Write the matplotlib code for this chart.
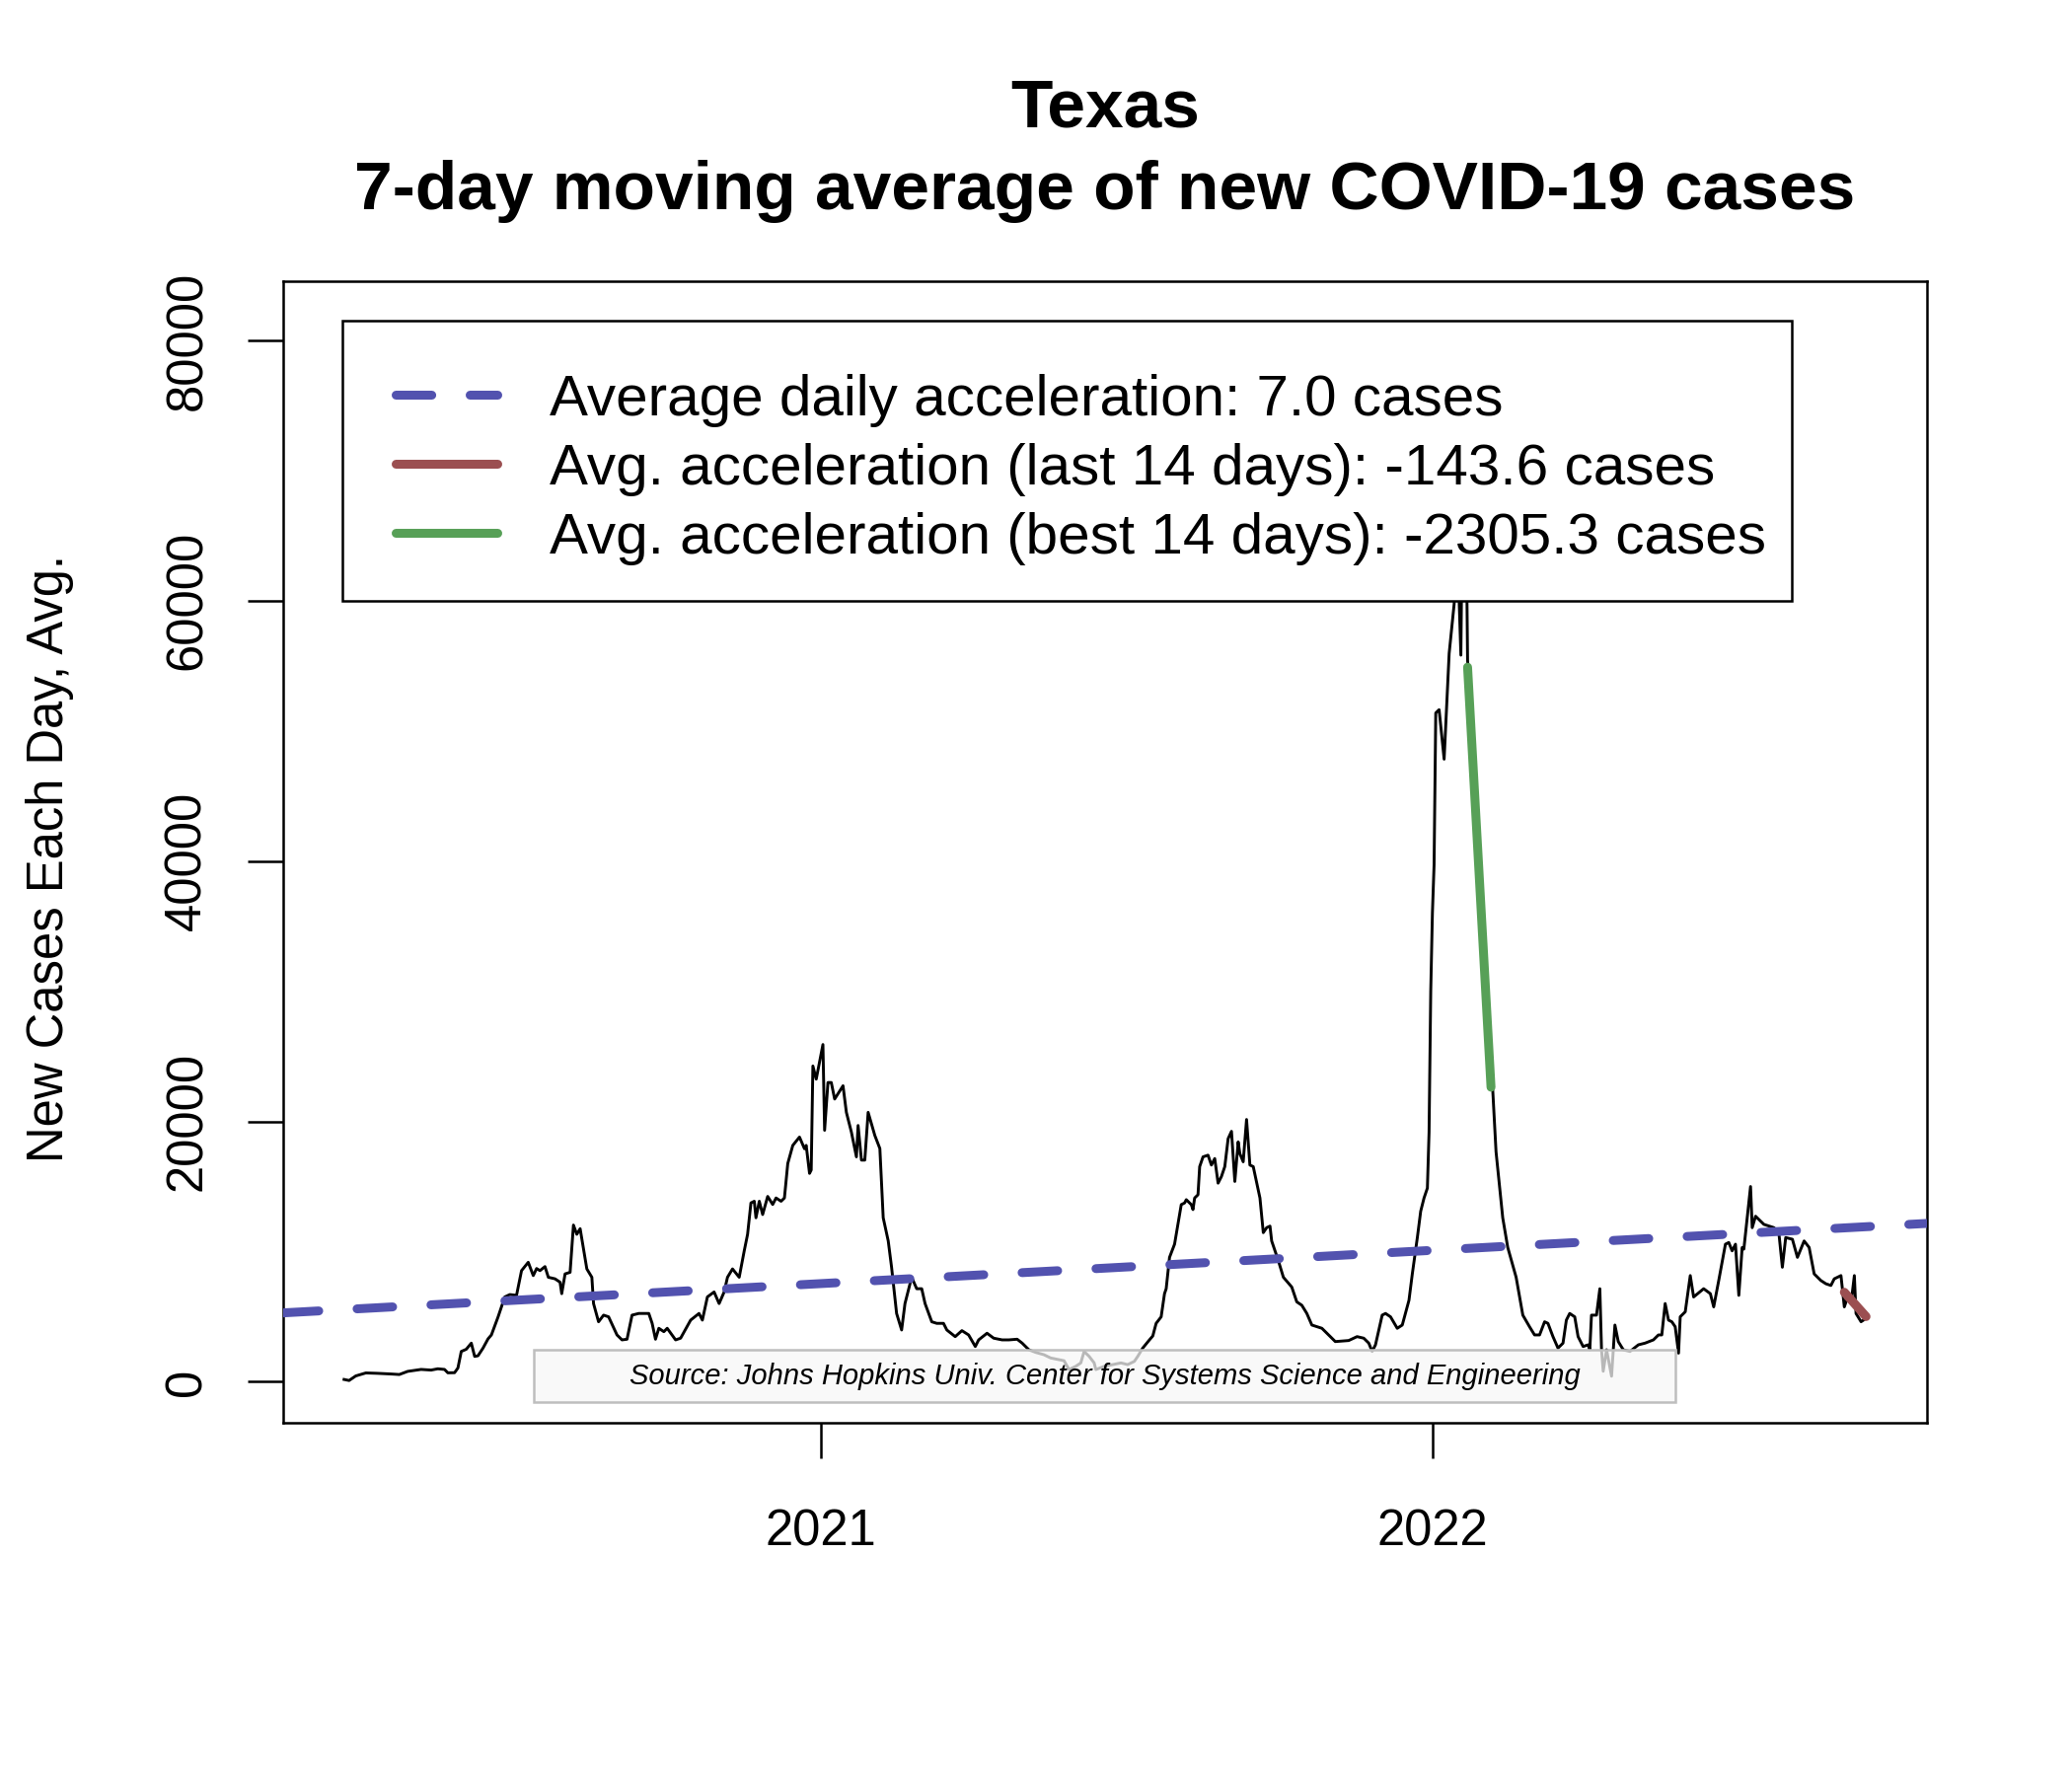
import numpy as np
import pandas as pd
import matplotlib
matplotlib.use("Agg")
import matplotlib.pyplot as plt
from matplotlib.patches import Rectangle

plt.rcParams['font.family'] = ['Liberation Sans', 'DejaVu Sans']
plt.rcParams['lines.scale_dashes'] = False

# ---------------- data ----------------
start_date = "2020-03-22"
# day offsets since start_date and 7-day average of new cases
day = [0, 3, 7, 13, 20, 28, 33, 38, 46, 52, 56, 60, 62, 66, 68, 70, 73, 76, 78, 80,
       83, 86, 88, 90, 92, 96, 99, 103, 106, 110, 113, 115, 117, 120, 122, 126, 129, 130, 132, 135,
       137, 139, 141, 145, 148, 149, 152, 155, 158, 163, 166, 169, 172, 176, 182, 184, 186, 188, 191, 193,
       198, 201, 207, 212, 214, 217, 221, 224, 227, 229, 232, 236, 239, 241, 243, 245, 246, 248, 250, 253,
       256, 258, 261, 263, 265, 268, 272, 275, 276, 278, 279, 280, 282, 286, 287, 289, 291, 293, 298, 300,
       303, 306, 307, 309, 311, 313, 317, 320, 322, 325, 327, 330, 333, 335, 339, 342, 345, 347, 351, 354,
       358, 360, 365, 369, 373, 377, 379, 384, 388, 393, 397, 402, 405, 409, 413, 418, 422, 427, 430, 433,
       437, 440, 442, 445, 448, 449, 454, 459, 464, 468, 472, 474, 477, 481, 483, 485, 488, 490, 491, 493,
       496, 498, 500, 502, 503, 506, 507, 508, 510, 511, 513, 516, 518, 520, 522, 524, 526, 528, 530, 532,
       534, 535, 537, 539, 541, 543, 547, 549, 551, 553, 554, 558, 561, 566, 569, 572, 575, 578, 584, 588,
       592, 600, 605, 609, 612, 614, 616, 620, 622, 625, 629, 632, 636, 638, 641, 643, 645, 647, 648, 649,
       650, 651, 652, 654, 657, 660, 663, 664, 667, 669, 671, 675, 680, 684, 686, 688, 692, 695, 700, 704,
       708, 711, 714, 717, 719, 722, 725, 728, 730, 732, 735, 737, 740, 743, 744, 745, 748, 750, 751, 752,
       754, 757, 759, 761, 764, 768, 773, 777, 782, 785, 787, 789, 791, 793, 795, 797, 798, 801, 804, 806,
       812, 816, 818, 821, 825, 827, 829, 831, 833, 835, 836, 838, 840, 841, 843, 848, 854, 857, 859, 861,
       865, 868, 872, 875, 878, 882, 885, 888, 890, 894, 896, 898, 900, 902, 903, 906, 909]
cases = [180, 100, 450, 680, 650, 600, 560, 800, 950, 900, 1000, 950, 690, 700, 1060, 2330, 2500, 2970, 1950, 2000,
         2590, 3300, 3600, 4300, 4990, 6520, 6700, 6640, 8540, 9180, 8160, 8700, 8540, 8850, 8030, 7910, 7650, 6770, 8290, 8410,
         12040, 11330, 11760, 8670, 8030, 6010, 4610, 5120, 4990, 3600, 3220, 3270, 5120, 5250, 5250, 4490, 3270, 4110, 3850, 4110,
         3220, 3350, 4740, 5250, 4740, 6520, 6900, 6010, 6900, 8030, 8670, 8030, 10060, 11330, 13740, 13870, 12600, 13870, 12850, 14240,
         13620, 14120, 13870, 14120, 16770, 18160, 18800, 17900, 18160, 16010, 16270, 24260, 23250, 25910, 19320, 22990, 22990, 21720, 22740, 20700,
         19180, 17280, 19690, 17030, 17030, 20700, 18920, 17920, 12600, 10820, 8800, 5250, 3980, 6010, 8030, 7150, 7150, 6010, 4610, 4490,
         4490, 3980, 3470, 3930, 3600, 2710, 3220, 3730, 3350, 3220, 3220, 3270, 2970, 2460, 2260, 2080, 1830, 1700, 1620, 940,
         1190, 1450, 2330, 1950, 1450, 940, 1190, 1320, 1450, 1320, 1570, 1950, 2590, 3220, 3520, 4490, 4990, 6770, 7150, 9560,
         10570, 12090, 13610, 13740, 13990, 13610, 13230, 14120, 14370, 16530, 17280, 17410, 16650, 17150, 15260, 15770, 16530, 18680, 19240, 15390,
         18430, 17530, 16900, 20150, 16650, 16530, 14120, 11460, 11840, 11960, 10820, 9300, 8030, 7280, 6140, 5880, 5250, 4360, 4110, 3600,
         3090, 3170, 3470, 3350, 2970, 2330, 2840, 5120, 5250, 4990, 4110, 4360, 6260, 8290, 11080, 13100, 14120, 14880, 19180, 30000,
         36000, 39720, 51380, 51630, 47830, 55950, 59770, 68000, 55820, 81300, 55440, 47500, 37000, 27500, 22490, 17670, 12600, 10320, 8030, 5120,
         4230, 3600, 3600, 4610, 4490, 3470, 2590, 2970, 4740, 5250, 4990, 3470, 2710, 2840, 2460, 5120, 5120, 7150, 2460, 810,
         2460, 430, 4360, 3090, 2460, 2330, 2840, 2970, 3220, 3600, 3600, 6010, 4740, 4610, 4230, 2200, 4995, 5375, 8160, 6515,
         7150, 6770, 5755, 7780, 10570, 10700, 10060, 10570, 6640, 10320, 10190, 12600, 15000, 11840, 12720, 12090, 11840, 11330, 8800, 11080,
         10950, 9560, 10820, 10320, 8290, 7780, 7530, 7400, 7910, 8160, 5755, 6515, 6008, 8160, 5247, 4615, 4870]

trend_start_value = 5550      # trend value at start_date
trend_slope = 7.0             # average daily acceleration
last14_days = [896, 909]
last14_values = [6880, 5010]
best14_days = [671, 685]
best14_values = [54900, 22630]

legend_labels = ["Average daily acceleration: 7.0 cases",
                 "Avg. acceleration (last 14 days): -143.6 cases",
                 "Avg. acceleration (best 14 days): -2305.3 cases"]
year_ticks = ["2021-01-01", "2022-01-01"]
year_labels = ["2021", "2022"]
y_ticks = [0, 20000, 40000, 60000, 80000]
title_lines = ["Texas", "7-day moving average of new COVID-19 cases"]
y_label = "New Cases Each Day, Avg."
source_text = "Source: Johns Hopkins Univ. Center for Systems Science and Engineering"

# ---------------- styles ----------------
BLUE = "#5252AF"
RED = "#9B4F51"
GREEN = "#57A057"
LW = 6.5
DASH = (26, 28)

fig = plt.figure(figsize=(21, 18), dpi=100)
ax = fig.add_axes([287 / 2100, 1 - 1442 / 1800, 1666 / 2100, 1157 / 1800])

t0 = pd.Timestamp(start_date)
to_date = lambda d: t0 + pd.to_timedelta(np.asarray(d, dtype=float), unit="D")

dates = to_date(day)
ax.plot(dates, cases, color="black", lw=2.1, solid_joinstyle="round", zorder=2)

# axis limits like R (4% padding)
dspan = day[-1] - day[0]
xpad = 0.04 * dspan
xlo, xhi = day[0] - xpad, day[-1] + xpad
ymin, ymax = min(cases), max(cases)
ypad = 0.04 * (ymax - ymin)
ax.set_xlim(to_date([xlo])[0], to_date([xhi])[0])
ax.set_ylim(ymin - ypad, ymax + ypad)

# trend line across the whole plot region
tx = np.array([xlo, xhi])
ax.plot(to_date(tx), trend_start_value + trend_slope * tx, color=BLUE, lw=LW,
        dashes=DASH, dash_capstyle="round", zorder=3)
ax.plot(to_date(best14_days), best14_values, color=GREEN, lw=LW,
        solid_capstyle="round", zorder=3)
ax.plot(to_date(last14_days), last14_values, color=RED, lw=LW,
        solid_capstyle="round", zorder=3)

# ticks
ax.set_yticks(y_ticks)
ax.set_yticklabels([str(v) for v in y_ticks])
ax.set_xticks(pd.to_datetime(year_ticks))
ax.set_xticklabels(year_labels)
ax.tick_params(axis="both", direction="out", length=26, width=1.8, labelsize=36.5, color="black")
ax.tick_params(axis="x", pad=36)
ax.tick_params(axis="y", pad=26, labelrotation=90)
for lab in ax.get_yticklabels():
    lab.set_va("center")
for s in ax.spines.values():
    s.set_linewidth(1.8)
    s.set_color("black")

# source box
ax.add_patch(Rectangle((0.1525, 0.0181), 0.847 - 0.1525, 0.0639 - 0.0181, transform=ax.transAxes,
                       facecolor=(0.97, 0.97, 0.97, 0.75), edgecolor="#BEBEBE", lw=1.8, zorder=4))
ax.text(0.5, 0.041, source_text, transform=ax.transAxes, ha="center", va="center",
        fontsize=21, style="italic", color="black", zorder=5)

# legend (manual, R style)
ax.add_patch(Rectangle((0.0360, 0.7200), 0.9178 - 0.0360, 0.9655 - 0.7200, transform=ax.transAxes,
                       facecolor="white", edgecolor="black", lw=1.8, zorder=6))
handle_y = [0.9006, 0.8401, 0.7796]
text_y = [0.8827, 0.8222, 0.7617]
styles = [dict(color=BLUE, dashes=DASH, dash_capstyle="round"),
          dict(color=RED, solid_capstyle="round"),
          dict(color=GREEN, solid_capstyle="round")]
for hy, ty, lab, st in zip(handle_y, text_y, legend_labels, styles):
    ax.plot([0.0685, 0.1303], [hy, hy], transform=ax.transAxes, lw=LW, zorder=7, clip_on=False, **st)
    ax.text(0.1621, ty, lab, transform=ax.transAxes, ha="left", va="baseline",
            fontsize=42, color="black", zorder=7)

# titles and y label
fig.text(1120 / 2100, 1 - 128.5 / 1800, title_lines[0], ha="center", va="baseline",
         fontsize=50, fontweight="bold")
fig.text(1120 / 2100, 1 - 211.5 / 1800, title_lines[1], ha="center", va="baseline",
         fontsize=50, fontweight="bold")
fig.text(64 / 2100, 1 - 870.5 / 1800, y_label, rotation=90, rotation_mode="anchor",
         ha="center", va="baseline", fontsize=36.5)

fig.savefig("out.png", dpi=100, facecolor="white")
